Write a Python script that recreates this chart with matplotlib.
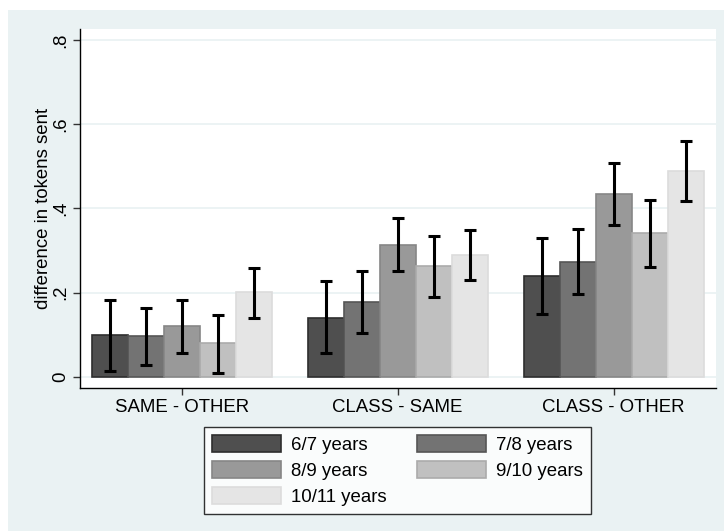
import numpy as np
import matplotlib.pyplot as plt
from matplotlib.patches import Rectangle

plt.rcParams['font.family'] = ['Liberation Sans', 'DejaVu Sans']

# data
groups = ["SAME - OTHER", "CLASS - SAME", "CLASS - OTHER"]
ages = ["6/7 years", "7/8 years", "8/9 years", "9/10 years", "10/11 years"]
means = [
    [0.099, 0.140, 0.239],   # 6/7
    [0.096, 0.178, 0.273],   # 7/8
    [0.120, 0.314, 0.434],   # 8/9
    [0.079, 0.264, 0.341],   # 9/10
    [0.201, 0.290, 0.489],   # 10/11
]
ci_hi = [
    [0.182, 0.227, 0.329],
    [0.164, 0.252, 0.351],
    [0.182, 0.378, 0.509],
    [0.147, 0.335, 0.421],
    [0.259, 0.349, 0.560],
]
ci_lo = [
    [0.013, 0.056, 0.149],
    [0.027, 0.103, 0.196],
    [0.056, 0.252, 0.360],
    [0.009, 0.190, 0.261],
    [0.139, 0.231, 0.418],
]

fills = ['#4f4f4f', '#737373', '#999999', '#c0c0c0', '#e5e5e5']
edges = ['#2e2e2e', '#565656', '#868686', '#ababab', '#dcdcdc']
bg = '#eaf2f3'

W, H = 724, 531
fig = plt.figure(figsize=(W / 100, H / 100), dpi=100, facecolor='white')
fig.patches.append(Rectangle((8 / W, 0), 1 - 8 / W, 1 - 10 / H,
                             transform=fig.transFigure, facecolor=bg,
                             edgecolor='none', zorder=-10))

ax = fig.add_axes([80 / W, 1 - 388 / H, (716 - 80) / W, (388 - 29) / H])
ax.set_facecolor('white')

x = np.arange(len(groups))
bw = 1 / 6
for i in range(len(ages)):
    pos = x + (i - 2) * bw
    m = np.array(means[i])
    ax.bar(pos, m, width=bw, color=fills[i], edgecolor=edges[i],
           linewidth=1.2, label=ages[i], zorder=2)
    lo = m - np.array(ci_lo[i])
    hi = np.array(ci_hi[i]) - m
    ax.errorbar(pos, m, yerr=[lo, hi], fmt='none', ecolor='black',
                elinewidth=2.2, capsize=4.5, capthick=2.2, zorder=3)

ax.set_xlim(-0.471, 2.474)
ax.set_ylim(-0.027, 0.827)
ax.set_xticks(x)
ax.set_xticklabels(groups, fontsize=13.4)
yt = [0, 0.2, 0.4, 0.6, 0.8]
ax.set_yticks(yt)
ax.set_yticklabels(['0', '.2', '.4', '.6', '.8'], rotation=90,
                   va='center', fontsize=13.4)
ax.yaxis.grid(True, color=bg, linewidth=1.3, zorder=0)
ax.set_axisbelow(True)
ax.set_ylabel('difference in tokens sent', fontsize=13.4, labelpad=0)
for s in ['top', 'right']:
    ax.spines[s].set_visible(False)
for s in ['left', 'bottom']:
    ax.spines[s].set_color('black')
    ax.spines[s].set_linewidth(1.0)
ax.tick_params(axis='both', length=5, width=1, color='#333333', pad=3)

# stata fills the legend row by row
handles, labels = ax.get_legend_handles_labels()
order = [0, 2, 4, 1, 3]
leg = fig.legend([handles[k] for k in order], [labels[k] for k in order],
                 loc='lower center', bbox_to_anchor=(397.5 / W, 1 - 514 / H),
                 ncol=2, fontsize=13.4, frameon=True, fancybox=False,
                 handlelength=3.7, handleheight=1.0, handletextpad=0.55,
                 columnspacing=1.6, labelspacing=0.38, borderpad=0.45,
                 borderaxespad=0)
leg.get_frame().set_edgecolor('black')
leg.get_frame().set_linewidth(1.0)

fig.savefig('out.png', dpi=100, facecolor=fig.get_facecolor())
